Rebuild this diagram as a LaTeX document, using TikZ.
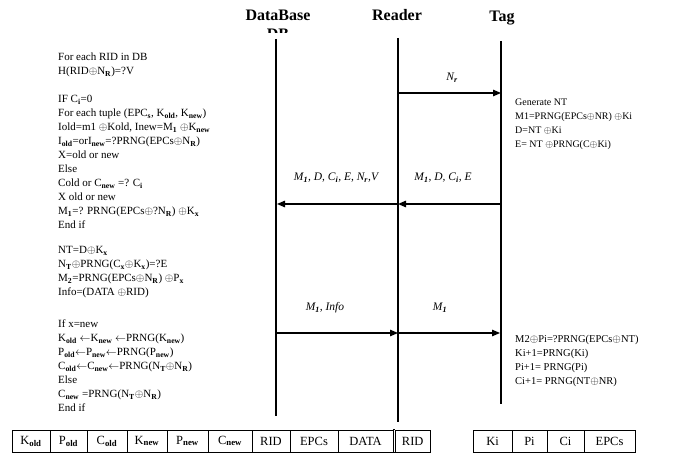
\documentclass[tikz,border=0pt]{standalone}
\usepackage{fontspec}
\setmainfont{Liberation Serif}
\usetikzlibrary{arrows.meta}

\newcommand{\xr}{\ensuremath{\oplus}}
\newcommand{\sbs}[1]{\textsubscript{\bfseries #1}}

\tikzset{
  head/.style={font=\fontsize{16}{19}\selectfont\bfseries, align=center},
  life/.style={line width=1.3pt},
  msg/.style={line width=1.3pt, -{Triangle[length=8pt,width=6.5pt]}},
  lbl/.style={font=\fontsize{11.5}{13}\selectfont\itshape},
  proc/.style={font=\fontsize{11}{14}\selectfont, align=left, anchor=north west, inner sep=0pt},
  cell/.style={draw, line width=0.8pt, minimum height=22pt, inner sep=0pt, font=\fontsize{12.5}{14}\selectfont}
}

\begin{document}
\begin{tikzpicture}[x=1pt,y=-1pt]
        \useasboundingbox (0,0) rectangle (674,454);

        % headers
        \begin{scope}
            \clip (220,0) rectangle (340,33);
            \node[head] (db) at (278,24.5) {DataBase\\DB};
        \end{scope}
        \node[head] (rd) at (397,15) {Reader};
        \node[head] (tg) at (502,18) {Tag};

        % lifelines
        \coordinate (dbtop) at (276,39);
        \coordinate (dbbot) at (276,416);
        \coordinate (rdtop) at (398,38);
        \coordinate (rdbot) at (398,422);
        \coordinate (tgtop) at (501,41);
        \coordinate (tgbot) at (501,404);
        \draw[life, line width=1.6pt] (dbtop) -- (dbbot);
        \draw[life] (rdtop) -- (rdbot);
        \draw[life] (tgtop) -- (tgbot);

        % messages
        \coordinate (r1) at (398,93);
        \coordinate (t1) at (501,93);
        \coordinate (d2) at (277,204);
        \coordinate (r2) at (398,204);
        \coordinate (t2) at (501,204);
        \coordinate (d3) at (276,333);
        \coordinate (r3) at (398,333);
        \coordinate (t3) at (500,333);
        \draw[msg] (r1) -- (t1);
        \draw[msg] (t2) -- (r2);
        \draw[msg] (r2) -- (d2);
        \draw[msg] (d3) -- (r3);
        \draw[msg] (r3) -- (t3);

        \node[lbl] (l1) at (452,78) {N\sbs{r}};
        \node[lbl] (l2) at (336,178) {M\sbs{1}, D, C\sbs{i}, E, N\sbs{r},V};
        \node[lbl] (l3) at (443,178) {M\sbs{1}, D, C\sbs{i}, E};
        \node[lbl] (l4) at (325,308) {M\sbs{1}, Info};
        \node[lbl] (l5) at (440,308) {M\sbs{1}};

        % database side
        \node[proc] (p1) at (58,53) {For each RID in DB\\
            H(RID\xr N\sbs{R})=?V};
        \node[proc] (p2) at (58,95) {IF C\sbs{i}=0\\
            For each tuple (EPC\sbs{s}, K\sbs{old}, K\sbs{new})\\
            Iold=m1 \xr Kold, Inew=M\sbs{1} \xr K\sbs{new}\\
            I\sbs{old}=orI\sbs{new}=?PRNG(EPCs\xr N\sbs{R})\\
            X=old or new\\
            Else\\
            Cold or C\sbs{new} =? C\sbs{i}\\
            X old or new\\
            M\sbs{1}=? PRNG(EPCs\xr ?N\sbs{R}) \xr K\sbs{x}\\
            End if};
        \node[proc] (p3) at (58,246) {NT=D\xr K\sbs{x}\\
            N\sbs{T}\xr PRNG(C\sbs{x}\xr K\sbs{x})=?E\\
            M\sbs{2}=PRNG(EPCs\xr N\sbs{R}) \xr P\sbs{x}\\
            Info=(DATA \xr RID)};
        \node[proc] (p4) at (58,320) {If x=new\\
            K\sbs{old} $\leftarrow$K\sbs{new} $\leftarrow$PRNG(K\sbs{new})\\
            P\sbs{old}$\leftarrow$P\sbs{new}$\leftarrow$PRNG(P\sbs{new})\\
            C\sbs{old}$\leftarrow$C\sbs{new}$\leftarrow$PRNG(N\sbs{T}\xr N\sbs{R})\\
            Else\\
            C\sbs{new} =PRNG(N\sbs{T}\xr N\sbs{R})\\
            End if};

        % tag side
        \node[proc, font=\fontsize{10}{14}\selectfont] (q1) at (515,99) {Generate NT\\
            M1=PRNG(EPCs\xr NR) \xr Ki\\
            D=NT \xr Ki\\
            E= NT \xr PRNG(C\xr Ki)};
        \node[proc, font=\fontsize{10.5}{14}\selectfont] (q2) at (515,335) {M2\xr Pi=?PRNG(EPCs\xr NT)\\
            Ki+1=PRNG(Ki)\\
            Pi+1= PRNG(Pi)\\
            Ci+1= PRNG(NT\xr NR)};

        % stored records
        \foreach \xa/\xb/\t [count=\i] in {12/50/K\sbs{old}, 50/87/P\sbs{old}, 87/127/C\sbs{old},
            127/167/K\sbs{new}, 167/208/P\sbs{new}, 208/252/C\sbs{new}, 252/290/RID,
            290/338/EPCs, 338/393/DATA, 395.5/430/RID}
            \node[cell, minimum width={(\xb-\xa)*1pt}] (c\i) at ({(\xa+\xb)/2},441) {\t};
        \draw[line width=0.8pt] (c9.north east) -- (c10.north west);
        \draw[line width=0.8pt] (c9.south east) -- (c10.south west);

        \foreach \xa/\xb/\t [count=\i] in {473/512/Ki, 512/547/Pi, 547/584/Ci, 584/635/EPCs}
            \node[cell, minimum width={(\xb-\xa)*1pt}] (k\i) at ({(\xa+\xb)/2},441) {\t};
    \end{tikzpicture}
\end{document}
